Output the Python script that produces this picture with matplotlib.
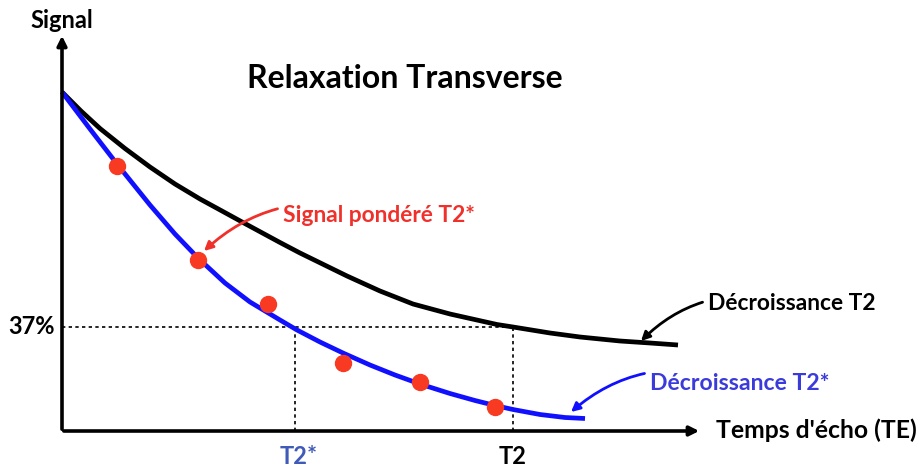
import matplotlib.pyplot as plt

plt.rcParams['font.family'] = ['Lato', 'DejaVu Sans']

# values in arbitrary units: x = echo time, y = signal (axis origin at 0, 0)
t2_x = [0, 19, 38, 63, 88, 113, 138, 160, 181, 218, 238, 285, 318, 351, 388, 435, 451,
        488, 518, 558, 588, 616]
t2_y = [339, 320, 302.5, 282.5, 264, 247, 232, 220, 208.5, 188.5, 178, 155, 140, 127, 117,
        106.5, 104, 98, 94, 90, 88, 86]

t2s_x = [0, 28, 55, 88, 113, 136, 163, 188, 218, 235, 258, 281, 308, 333, 358, 388, 413,
         433, 451, 478, 503, 523]
t2s_y = [339, 302, 267, 226, 197, 173, 148, 129, 111, 101, 89, 78, 66, 56, 47, 37.5, 30.5,
         25.5, 21.5, 16.5, 13.5, 12.5]

pts_x = [55, 136, 206, 281, 358, 433]
pts_y = [265, 171, 127, 68, 49, 24]

level_37 = 104
t2_star = 233
t2 = 451

fig = plt.figure(figsize=(9.24, 4.67), dpi=100)
ax = fig.add_axes([0, 0, 1, 1])
ax.set_xlim(-62, 862)
ax.set_ylim(-36, 431)
ax.axis('off')

# axes with arrows
ax.annotate('', xy=(640, 0), xytext=(-1, 0),
            arrowprops=dict(arrowstyle='-|>', color='black', lw=2.6, mutation_scale=14))
ax.annotate('', xy=(0, 398), xytext=(0, -1),
            arrowprops=dict(arrowstyle='-|>', color='black', lw=2.6, mutation_scale=14))

# 37% guides
ax.plot([0, t2], [level_37, level_37], color='black', ls=(0, (2, 2)), lw=1.2)
ax.plot([t2_star, t2_star], [0, level_37], color='black', ls=(0, (2, 2)), lw=1.2)
ax.plot([t2, t2], [0, level_37], color='black', ls=(0, (2, 2)), lw=1.2)

ax.plot(t2_x, t2_y, color='black', lw=3.4, solid_capstyle='butt', solid_joinstyle='round')
ax.plot(t2s_x, t2s_y, color='#1010ff', lw=3.4, solid_capstyle='butt', solid_joinstyle='round')
ax.plot(pts_x, pts_y, 'o', color='#f83a22', ms=11.5, zorder=5)

ax.text(0, 410, 'Signal', ha='center', va='center', fontsize=17, fontweight='bold')
ax.text(-30, level_37, '37%', ha='center', va='center', fontsize=17, fontweight='bold')
ax.text(t2_star + 4, -25, 'T2*', ha='center', va='center', fontsize=17,
        fontweight='bold', color='#3f5ab8')
ax.text(t2, -25, 'T2', ha='center', va='center', fontsize=17, fontweight='bold')
ax.text(654, 1, "Temps d'écho (TE)", ha='left', va='center', fontsize=17.8, fontweight='bold')
ax.text(343, 353, 'Relaxation Transverse', ha='center', va='center', fontsize=23,
        fontweight='bold')

ax.annotate('Signal pondéré T2*', xy=(142, 180), xytext=(221, 216),
            ha='left', va='center', fontsize=16.4, fontweight='bold', color='#f0302a',
            arrowprops=dict(arrowstyle='-|>', color='#f0302a', lw=2,
                            connectionstyle='arc3,rad=0.3', shrinkA=2, shrinkB=0,
                            mutation_scale=13))
ax.annotate('Décroissance T2', xy=(579, 90), xytext=(646, 127),
            ha='left', va='center', fontsize=16.4, fontweight='bold', color='black',
            arrowprops=dict(arrowstyle='-|>', color='black', lw=2,
                            connectionstyle='arc3,rad=0.3', shrinkA=2, shrinkB=0,
                            mutation_scale=13))
ax.annotate('Décroissance T2*', xy=(509, 19), xytext=(588, 48),
            ha='left', va='center', fontsize=16.6, fontweight='bold', color='#3b3bdc',
            arrowprops=dict(arrowstyle='-|>', color='#1010ff', lw=2,
                            connectionstyle='arc3,rad=0.3', shrinkA=2, shrinkB=0,
                            mutation_scale=13))

fig.savefig('out.png', dpi=100)
